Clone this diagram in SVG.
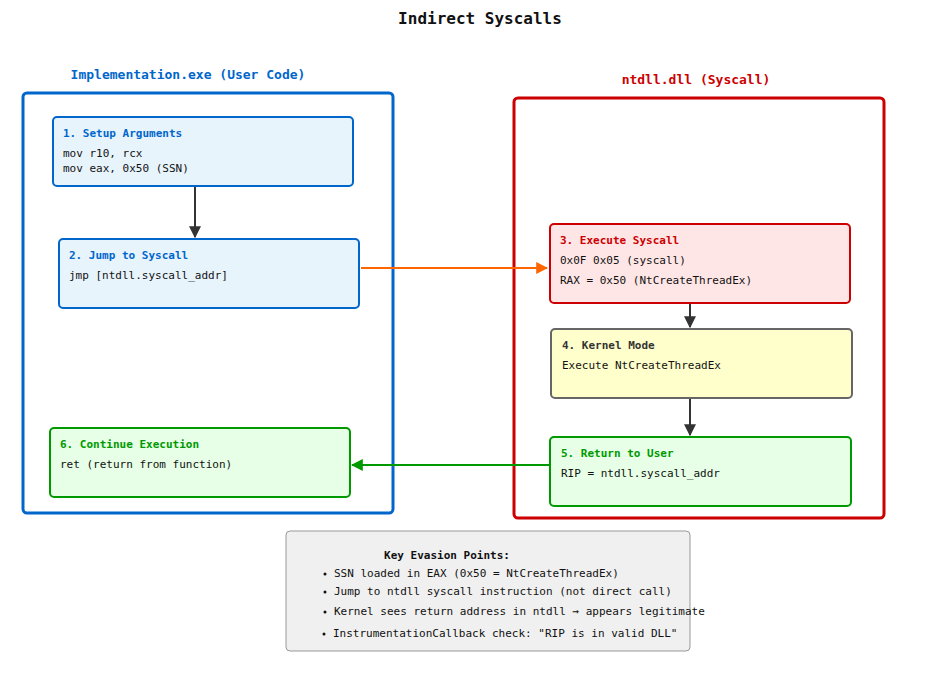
<svg xmlns="http://www.w3.org/2000/svg" width="926" height="674" viewBox="0 0 926 674">
<defs>
<style>
text{font-family:"DejaVu Sans Mono","Liberation Mono",monospace;font-size:11px;fill:#111}
.t{font-weight:bold}
.box{stroke-width:2}
</style>
<marker id="ak" viewBox="0 0 10 10" refX="9" refY="5" markerWidth="6" markerHeight="6" orient="auto"><path d="M0,0L10,5L0,10z" fill="#333"/></marker>
<marker id="ao" viewBox="0 0 10 10" refX="9" refY="5" markerWidth="6" markerHeight="6" orient="auto"><path d="M0,0L10,5L0,10z" fill="#ff6600"/></marker>
<marker id="ag" viewBox="0 0 10 10" refX="9" refY="5" markerWidth="6" markerHeight="6" orient="auto"><path d="M0,0L10,5L0,10z" fill="#009900"/></marker>
</defs>
<rect width="926" height="674" fill="#fff"/>
<text x="480" y="24" text-anchor="middle" class="t" style="font-size:16px">Indirect Syscalls</text>
<g id="user">
<text x="188" y="79" text-anchor="middle" class="t" style="font-size:13px;fill:#0066cc">Implementation.exe (User Code)</text>
<rect x="23" y="93" width="370" height="420" rx="4" fill="none" stroke="#0066cc" stroke-width="3"/>
</g>
<g id="ntdll">
<text x="696" y="84" text-anchor="middle" class="t" style="font-size:13px;fill:#cc0000">ntdll.dll (Syscall)</text>
<rect x="514" y="98" width="370" height="420" rx="4" fill="none" stroke="#cc0000" stroke-width="3"/>
</g>
<g id="n1"><rect class="box" x="53" y="117" width="300" height="69" rx="4" fill="#e8f4fc" stroke="#0066cc"/>
<text x="63" y="137" class="t" style="fill:#0066cc">1. Setup Arguments</text><text x="63" y="157">mov r10, rcx</text><text x="63" y="172">mov eax, 0x50 (SSN)</text></g>
<g id="n2"><rect class="box" x="59" y="239" width="300" height="69" rx="4" fill="#e8f4fc" stroke="#0066cc"/>
<text x="69" y="259" class="t" style="fill:#0066cc">2. Jump to Syscall</text><text x="69" y="279">jmp [ntdll.syscall_addr]</text></g>
<g id="n6"><rect class="box" x="50" y="428" width="300" height="69" rx="4" fill="#e6ffe6" stroke="#009900"/>
<text x="60" y="448" class="t" style="fill:#009900">6. Continue Execution</text><text x="60" y="468">ret (return from function)</text></g>
<g id="n3"><rect class="box" x="550" y="224" width="300" height="79" rx="4" fill="#ffe6e6" stroke="#cc0000"/>
<text x="560" y="244" class="t" style="fill:#cc0000">3. Execute Syscall</text><text x="560" y="264">0x0F 0x05 (syscall)</text><text x="560" y="284">RAX = 0x50 (NtCreateThreadEx)</text></g>
<g id="n4"><rect class="box" x="551" y="329" width="301" height="69" rx="4" fill="#ffffcc" stroke="#666"/>
<text x="562" y="349" class="t" style="fill:#333">4. Kernel Mode</text><text x="562" y="369">Execute NtCreateThreadEx</text></g>
<g id="n5"><rect class="box" x="550" y="437" width="301" height="69" rx="4" fill="#e6ffe6" stroke="#009900"/>
<text x="561" y="457" class="t" style="fill:#009900">5. Return to User</text><text x="561" y="477">RIP = ntdll.syscall_addr</text></g>
<g id="connectors" fill="none" stroke-width="2">
<line x1="195" y1="187" x2="195" y2="237" stroke="#333" marker-end="url(#ak)"/>
<line x1="361" y1="268" x2="547" y2="268" stroke="#ff6600" marker-end="url(#ao)"/>
<line x1="690" y1="304" x2="690" y2="327" stroke="#333" marker-end="url(#ak)"/>
<line x1="690" y1="399" x2="690" y2="435" stroke="#333" marker-end="url(#ak)"/>
<line x1="549" y1="465" x2="352" y2="465" stroke="#009900" marker-end="url(#ag)"/>
</g>
<g id="legend">
<rect x="286" y="531" width="404" height="120" rx="4" fill="#f0f0f0" stroke="#999"/>
<text x="447" y="559" text-anchor="middle" class="t">Key Evasion Points:</text>
<g font-size="11"><circle cx="325" cy="574" r="1.5" fill="#111"/><text x="334" y="577">SSN loaded in EAX (0x50 = NtCreateThreadEx)</text>
<circle cx="325" cy="592" r="1.5" fill="#111"/><text x="334" y="595">Jump to ntdll syscall instruction (not direct call)</text>
<circle cx="325" cy="612" r="1.5" fill="#111"/><text x="334" y="615">Kernel sees return address in ntdll → appears legitimate</text>
<circle cx="324" cy="634" r="1.5" fill="#111"/><text x="333" y="637">InstrumentationCallback check: "RIP is in valid DLL"</text></g>
</g>
</svg>
